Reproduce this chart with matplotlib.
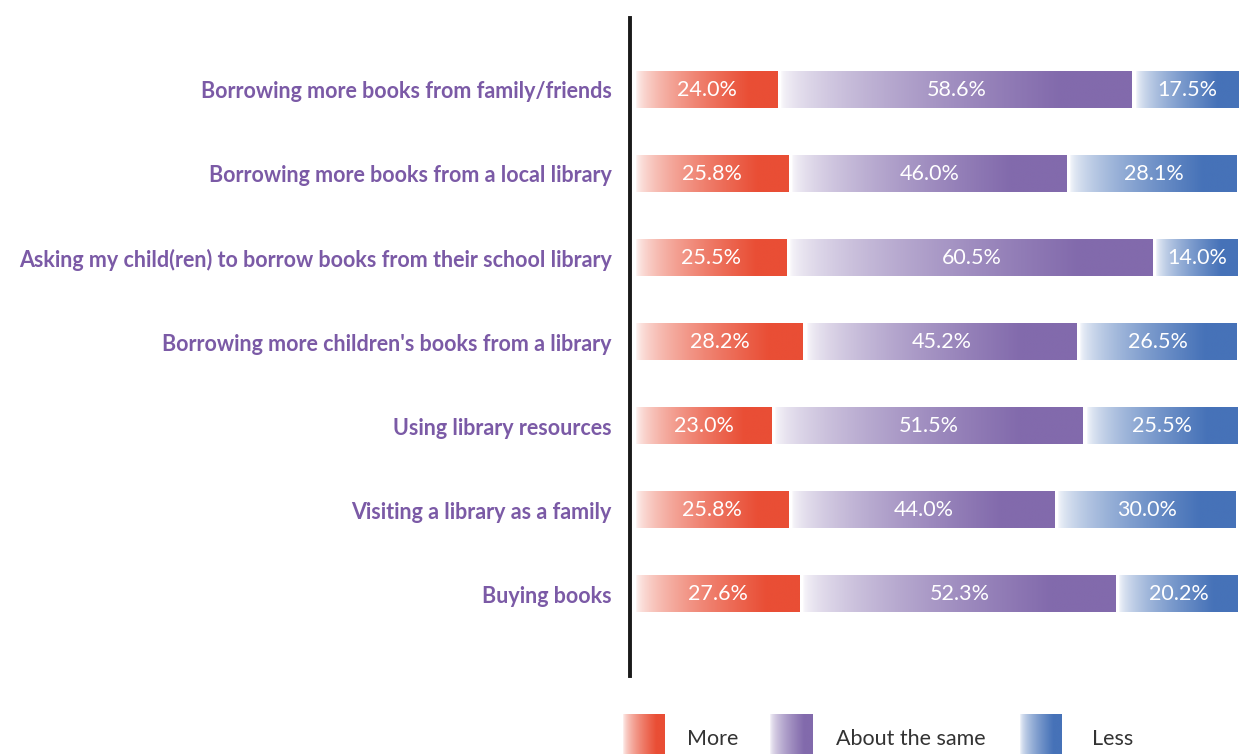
import numpy as np
import matplotlib.pyplot as plt
from matplotlib.colors import LinearSegmentedColormap

"""
Stacked horizontal bars with white-to-colour gradient segments
"""

categories = [
    "Borrowing more books from family/friends",
    "Borrowing more books from a local library",
    "Asking my child(ren) to borrow books from their school library",
    "Borrowing more children's books from a library",
    "Using library resources",
    "Visiting a library as a family",
    "Buying books",
]
more = [24.0, 25.8, 25.5, 28.2, 23.0, 25.8, 27.6]
same = [58.6, 46.0, 60.5, 45.2, 51.5, 44.0, 52.3]
less = [17.5, 28.1, 14.0, 26.5, 25.5, 30.0, 20.2]
series_names = ["More", "About the same", "Less"]
colours = ["#E94E35", "#826AAC", "#4672B8"]

plt.rcParams['font.family'] = ['Lato', 'DejaVu Sans']

W, H = 1241, 754
fig = plt.figure(figsize=(W / 100, H / 100), dpi=100)
ax = fig.add_axes([630 / W, 1 - 676 / H, 611 / W, 658 / H])


def ramp(colour):
    cm = LinearSegmentedColormap.from_list("g", ["#FFFFFF", colour])
    t = np.linspace(0, 1, 256)
    t = np.clip(t / 0.8, 0, 1) ** 0.6
    return cm(0.04 + 0.96 * t).reshape(1, -1, 4)


grads = [ramp(c) for c in colours]
gap = 0.6
bar_h = 0.43

data = np.array([more, same, less]).T
for i, row in enumerate(data):
    left = 0.0
    for j, v in enumerate(row):
        right = left + v - gap
        ax.imshow(grads[j], extent=(left, right, i + bar_h / 2, i - bar_h / 2),
                  aspect='auto', interpolation='bilinear', zorder=2)
        ax.text((left + right) / 2, i, f"{v:.1f}%", color="white", fontsize=15.5,
                ha='center', va='center', zorder=3)
        left += v

ax.set_xlim(-1.0, 100)
ax.set_ylim(6.976, -0.857)
ax.set_yticks(range(len(categories)))
ax.set_yticklabels(categories, fontsize=15.5, fontweight='bold', color="#7B5AA6")
ax.tick_params(axis='y', length=0, pad=13)
ax.set_xticks([])
for s in ['top', 'right', 'bottom']:
    ax.spines[s].set_visible(False)
ax.spines['left'].set_linewidth(2.8)
ax.spines['left'].set_color("#1a1a1a")

# legend swatches along the bottom edge
leg_x = [623, 770, 1020]
txt_x = [687, 836, 1092]
for k in range(3):
    lax = fig.add_axes([leg_x[k] / W, 0, 42 / W, 40 / H])
    lax.imshow(grads[k], aspect='auto', interpolation='bilinear')
    lax.axis('off')
    fig.text(txt_x[k] / W, 1 - 739 / H, series_names[k], fontsize=15.5,
             color="#333333", va='center', ha='left')

fig.savefig("out.png", dpi=100, facecolor="white")
